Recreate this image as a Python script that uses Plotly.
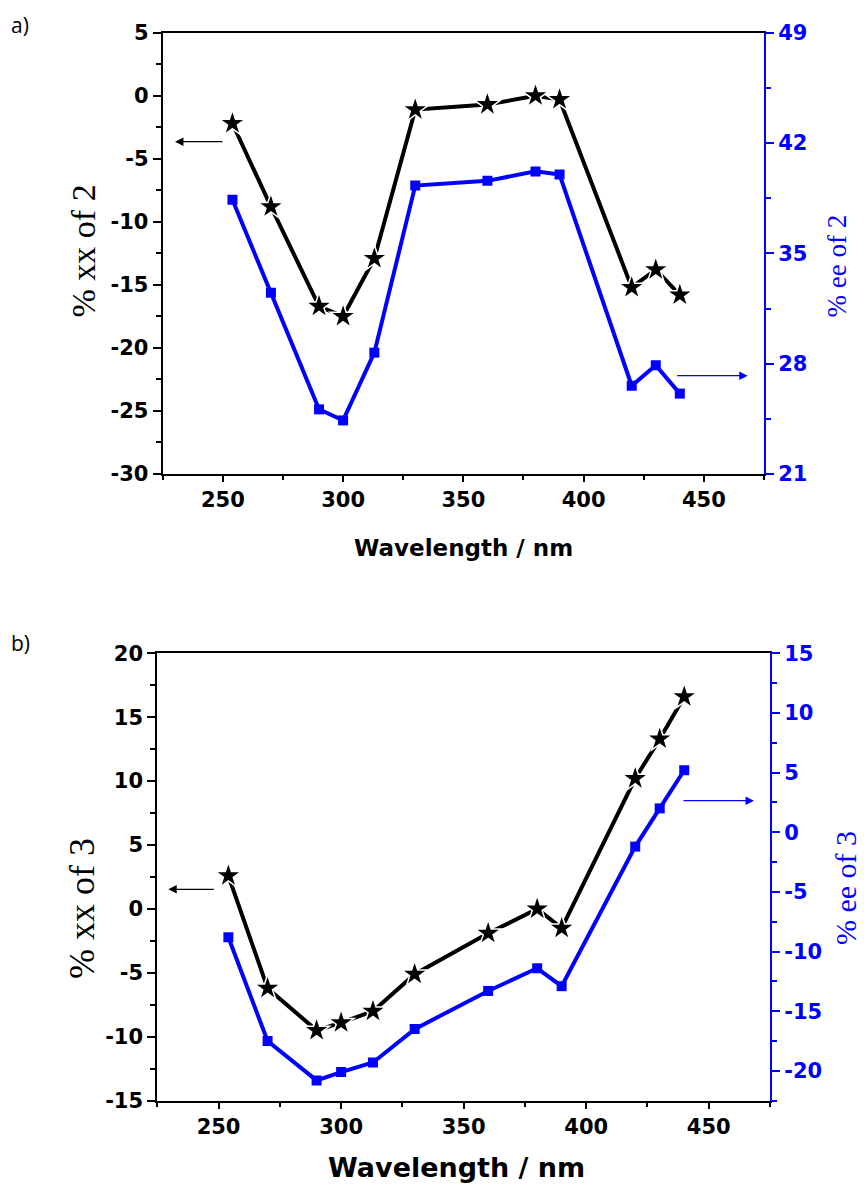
import plotly.graph_objects as go

# ---------------- data ----------------
wavelength = [254, 270, 290, 300, 313, 330, 360, 380, 390, 420, 430, 440]
xx_2 = [-2.2, -8.8, -16.7, -17.5, -12.9, -1.1, -0.7, 0.0, -0.3, -15.2, -13.8, -15.8]
ee_2 = [38.4, 32.5, 25.1, 24.4, 28.7, 39.3, 39.6, 40.2, 40.0, 26.6, 27.9, 26.1]
xx_3 = [2.6, -6.2, -9.5, -8.9, -8.0, -5.1, -1.9, 0.0, -1.5, 10.2, 13.3, 16.6]
ee_3 = [-8.8, -17.5, -20.8, -20.1, -19.3, -16.5, -13.3, -11.4, -12.9, -1.2, 2.0, 5.2]

x_ticks = [250, 300, 350, 400, 450]
y_ticks_xx2 = [5, 0, -5, -10, -15, -20, -25, -30]
y_ticks_ee2 = [49, 42, 35, 28, 21]
y_ticks_xx3 = [20, 15, 10, 5, 0, -5, -10, -15]
y_ticks_ee3 = [15, 10, 5, 0, -5, -10, -15, -20]
x_title = "Wavelength / nm"

W, H = 864, 1185
BLUE = "#0000FF"
TICKFONT = "DejaVu Sans"
SERIF = "Liberation Serif"


def px(x):
    return x / W


def py(y):
    return 1 - y / H


def labels(vals):
    return [str(v) for v in vals]  # plain hyphen minus as in the reference


fig = go.Figure()


def add_panel(xa, ya_left, ya_right, left_vals, right_vals):
    # black line with small gaps around the stars
    fig.add_trace(go.Scatter(x=wavelength, y=left_vals, mode="lines",
                             line=dict(color="black", width=4),
                             xaxis=xa, yaxis=ya_left, showlegend=False))
    fig.add_trace(go.Scatter(x=wavelength, y=left_vals, mode="markers",
                             marker=dict(symbol="star", size=23, color="white",
                                         line=dict(width=0)),
                             xaxis=xa, yaxis=ya_left, showlegend=False))
    fig.add_trace(go.Scatter(x=wavelength, y=left_vals, mode="markers",
                             marker=dict(symbol="star", size=16, color="black",
                                         line=dict(width=0)),
                             xaxis=xa, yaxis=ya_left, showlegend=False))
    fig.add_trace(go.Scatter(x=wavelength, y=right_vals, mode="lines+markers",
                             line=dict(color=BLUE, width=4),
                             marker=dict(symbol="square", size=10, color=BLUE),
                             xaxis=xa, yaxis=ya_right, showlegend=False))


add_panel("x", "y", "y2", xx_2, ee_2)
add_panel("x2", "y3", "y4", xx_3, ee_3)

xcommon = dict(range=[225, 475], tickvals=x_ticks, ticktext=labels(x_ticks),
               showgrid=False, zeroline=False, automargin=False,
               showline=True, linecolor="black", linewidth=2, mirror=True,
               ticks="outside", ticklen=6, tickwidth=2, tickcolor="black",
               minor=dict(tickvals=[225, 275, 325, 375, 425, 475], ticklen=4,
                          tickwidth=2, tickcolor="black", ticks="outside"),
               tickfont=dict(family=TICKFONT, size=21, color="black", weight="bold"))


def yleft(rng, ticks, minor_dt, domain, anchor):
    return dict(range=rng, tickvals=ticks, ticktext=labels(ticks), domain=domain,
                anchor=anchor, automargin=False,
                showgrid=False, zeroline=False, showline=True, linecolor="black",
                linewidth=2, ticks="outside", ticklen=8, tickwidth=2, tickcolor="black",
                minor=dict(dtick=minor_dt, tick0=0, ticklen=5, tickwidth=2,
                           tickcolor="black", ticks="outside"),
                tickfont=dict(family=TICKFONT, size=21, color="black", weight="bold"))


def yright(rng, ticks, tick0, minor_dt, overlay, anchor):
    return dict(range=rng, tickvals=ticks, ticktext=labels(ticks), overlaying=overlay,
                anchor=anchor, automargin=False,
                side="right", showgrid=False, zeroline=False, showline=True,
                linecolor=BLUE, linewidth=2, ticks="outside", ticklen=8, tickwidth=2,
                tickcolor=BLUE,
                minor=dict(dtick=minor_dt, tick0=tick0, ticklen=5, tickwidth=2,
                           tickcolor=BLUE, ticks="outside"),
                tickfont=dict(family=TICKFONT, size=21, color=BLUE, weight="bold"))


top_xdom = [px(162.7), px(764)]
top_ydom = [py(474), py(32.7)]
bot_xdom = [px(157.3), px(770)]
bot_ydom = [py(1100.7), py(653.3)]

fig.update_layout(
    width=W, height=H, margin=dict(l=0, r=0, t=0, b=0, autoexpand=False),
    paper_bgcolor="white", plot_bgcolor="white",
    xaxis=dict(xcommon, domain=top_xdom, anchor="y"),
    xaxis2=dict(xcommon, domain=bot_xdom, anchor="y3"),
    yaxis=yleft([-30, 5], y_ticks_xx2, 2.5, top_ydom, "x"),
    yaxis2=yright([21, 49], y_ticks_ee2, 21, 3.5, "y", "x"),
    yaxis3=yleft([-15, 20], y_ticks_xx3, 2.5, bot_ydom, "x2"),
    yaxis4=yright([-22.5, 15], y_ticks_ee3, 0, 2.5, "y3", "x2"),
)

ann = []
# x-axis titles
ann.append(dict(x=px(463.3), y=py(548), text=x_title, showarrow=False,
                xref="paper", yref="paper", xanchor="center", yanchor="middle",
                font=dict(family=TICKFONT, size=23, color="black", weight="bold")))
ann.append(dict(x=px(456), y=py(1167), text=x_title, showarrow=False,
                xref="paper", yref="paper", xanchor="center", yanchor="middle",
                font=dict(family=TICKFONT, size=27, color="black", weight="bold")))
# y-axis titles
ann.append(dict(x=px(83), y=py(251.5), text="% xx of 2", textangle=-90, showarrow=False,
                xref="paper", yref="paper", xanchor="center", yanchor="middle",
                font=dict(family=SERIF, size=34, color="black")))
ann.append(dict(x=px(837), y=py(266.5), text="% ee of 2", textangle=-90, showarrow=False,
                xref="paper", yref="paper", xanchor="center", yanchor="middle",
                font=dict(family=SERIF, size=27, color=BLUE)))
ann.append(dict(x=px(82), y=py(909), text="% xx of 3", textangle=-90, showarrow=False,
                xref="paper", yref="paper", xanchor="center", yanchor="middle",
                font=dict(family=SERIF, size=36, color="black")))
ann.append(dict(x=px(845), y=py(888), text="% ee of 3", textangle=-90, showarrow=False,
                xref="paper", yref="paper", xanchor="center", yanchor="middle",
                font=dict(family=SERIF, size=30, color=BLUE)))
# panel labels
ann.append(dict(x=px(9), y=py(25), text="a)", showarrow=False, xref="paper", yref="paper",
                xanchor="left", yanchor="middle",
                font=dict(family="Open Sans", size=21, color="black")))
ann.append(dict(x=px(9), y=py(643), text="b)", showarrow=False, xref="paper", yref="paper",
                xanchor="left", yanchor="middle",
                font=dict(family="Open Sans", size=21, color="black")))


def arrow(x_head, y, length, color):
    # length > 0 : tail to the right of the head (arrow pointing left)
    return dict(x=px(x_head), y=py(y), xref="paper", yref="paper", text="",
                showarrow=True, ax=length, ay=0, arrowhead=2, arrowsize=1.3,
                arrowwidth=1.3, arrowcolor=color)


ann.append(arrow(175, 141.7, 49, "black"))
ann.append(arrow(747.7, 375.7, -72, BLUE))
ann.append(arrow(168.3, 889.3, 47, "black"))
ann.append(arrow(754, 800.7, -72, BLUE))

fig.update_layout(annotations=ann)

fig.write_html("out.html")
